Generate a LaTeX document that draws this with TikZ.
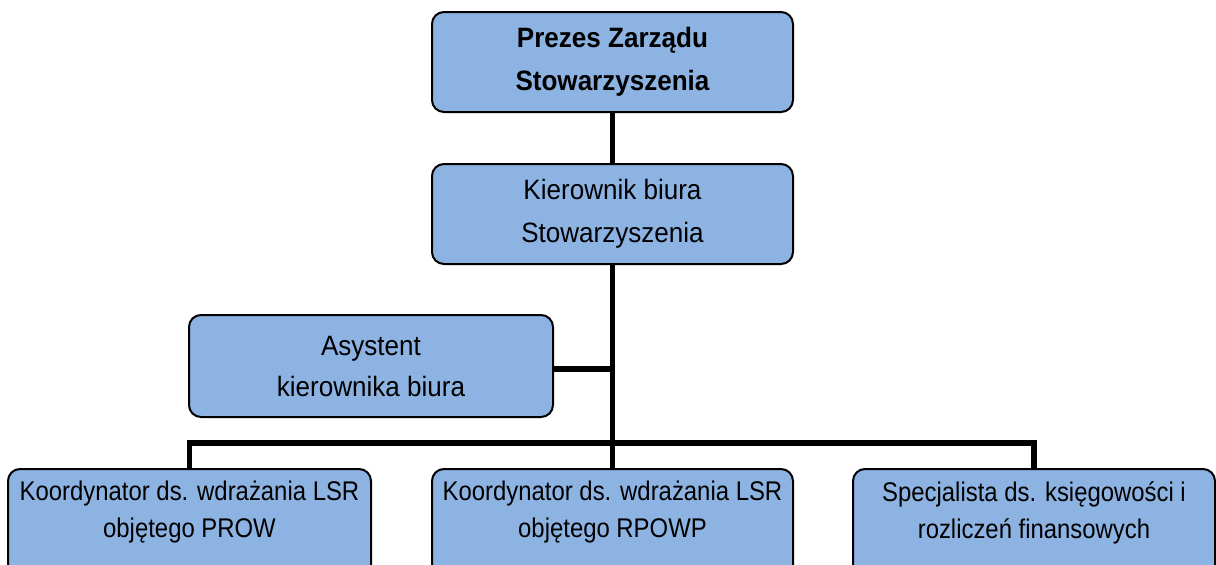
\documentclass[tikz,border=0pt]{standalone}
\usepackage{fontspec}
\newfontfamily\fa[FakeStretch=0.93]{Liberation Sans}
\newfontfamily\fb[FakeStretch=0.885]{Liberation Sans}
\definecolor{boxblue}{HTML}{8DB3E2}
\begin{document}
\begin{tikzpicture}[x=1pt,y=-1pt,
  box/.style={draw=black, line width=2pt, fill=boxblue, rounded corners=12pt, inner sep=0pt},
  upper/.style={box, minimum width=361pt, minimum height=100pt, align=center,
    font=\fa\fontsize{28}{43}\selectfont},
  lower/.style={box, minimum width=362pt, minimum height=110pt, anchor=north},
  ltext/.style={anchor=north, align=center, inner sep=0pt,
    font=\fb\fontsize{27}{37}\selectfont},
  conn/.style={line width=5.5pt, line join=miter}]
\useasboundingbox (0,0) rectangle (1216,565);
\clip (0,0) rectangle (1216,565);
\node[upper, font=\fa\fontsize{28}{43}\selectfont\bfseries] (prezes) at (612.5,62) {Prezes Zarządu\\Stowarzyszenia};
\node[upper] (kier) at (612.5,214) {Kierownik biura\\Stowarzyszenia};
\node[upper, minimum width=364pt, minimum height=102pt, font=\fa\fontsize{28}{41}\selectfont] (asys) at (371,366) {Asystent\\kierownika biura};
\node[lower, minimum width=363pt] (b1) at (189.5,468) {};
\node[lower, minimum width=361pt] (b2) at (612.5,468) {};
\node[lower, minimum width=362pt] (b3) at (1034,468) {};
\node[ltext] (b1t) at ([yshift=-13pt]b1.north) {Koordynator ds. wdrażania LSR\\objętego PROW};
\node[ltext] (b2t) at ([yshift=-13pt]b2.north) {Koordynator ds. wdrażania LSR\\objętego RPOWP};
\node[ltext] (b3t) at ([yshift=-13pt]b3.north) {Specjalista ds. księgowości i\\rozliczeń finansowych};
\coordinate (bus) at (612.5,443);
\draw[conn] (prezes.south) -- (kier.north);
\draw[conn] (kier.south) -- (b2.north);
\draw[conn] ([yshift=-3pt]asys.east) -- ([yshift=-3pt]asys.east -| kier.south);
\draw[conn] (b1.north) -- (b1.north |- bus) -- (b3.north |- bus) -- (b3.north);
\end{tikzpicture}
\end{document}
